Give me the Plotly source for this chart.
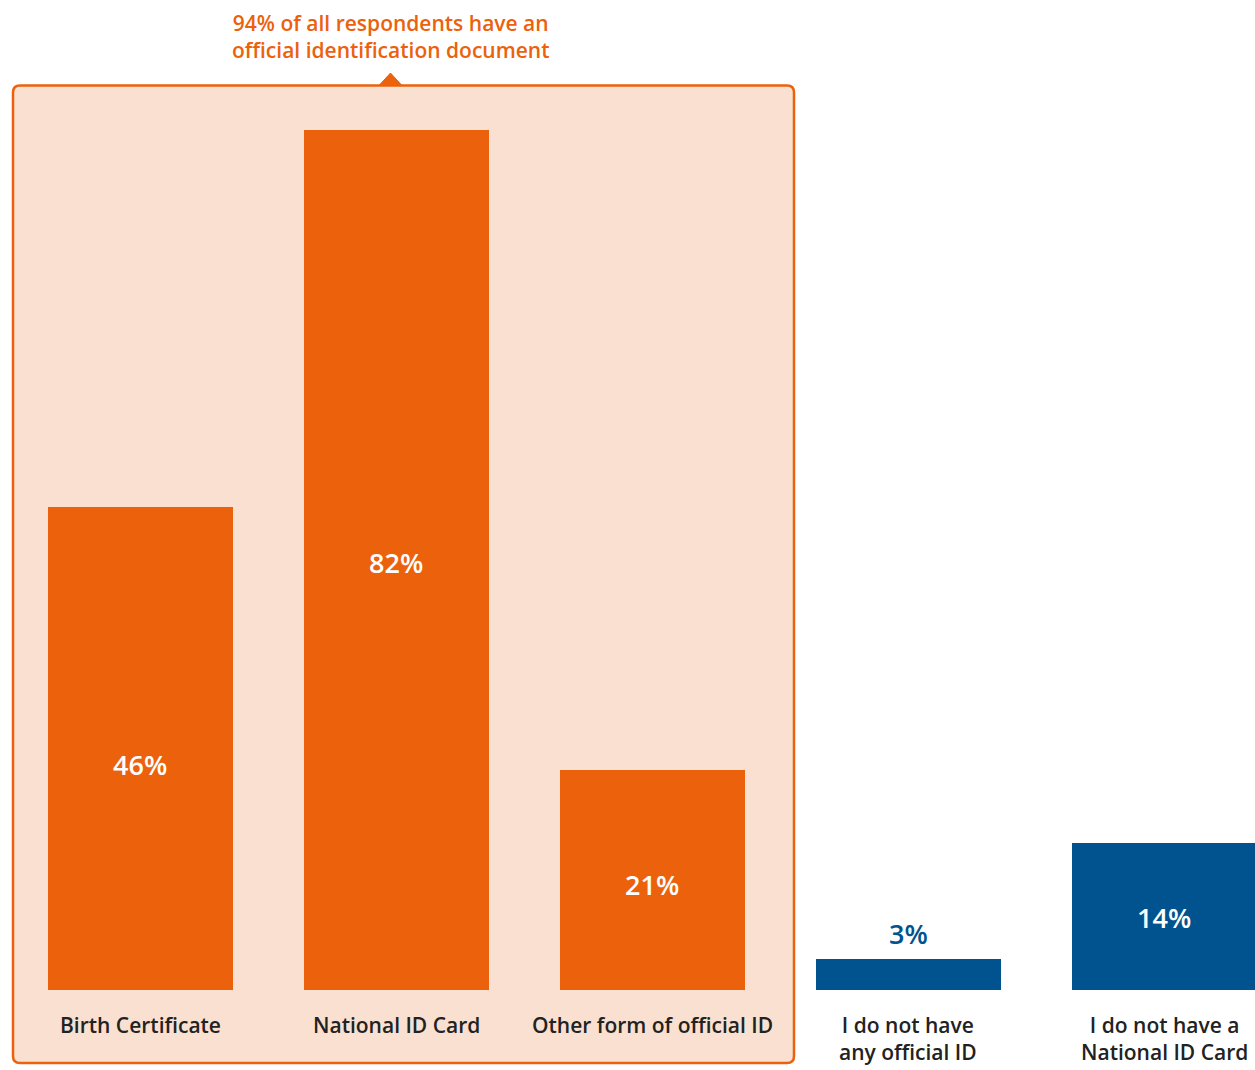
import plotly.graph_objects as go

categories = ["Birth Certificate", "National ID Card", "Other form of official ID",
              "I do not have<br>any official ID", "I do not have a<br>National ID Card"]
values = [46, 82, 21, 3, 14]
value_labels = ["46%", "82%", "21%", "3%", "14%"]
bar_colors = ["#EC610C", "#EC610C", "#EC610C", "#00538F", "#00538F"]
callout_text = "94% of all respondents have an<br>official identification document"

ORANGE = "#EC610C"
BLUE = "#00538F"
FILL = "#F9E0D0"
FONT = "Open Sans"

OFF = 0  # page body margin removed via post_script
W, H = 1255, 1070
# pixel geometry (screen coordinates)
x0_px, step_px = 140.0, 256.0
base_px, per_pct = 990.0, 10.49

def xd(px):
    return (px - x0_px) / step_px

def yd(py):
    return (base_px - py) / per_pct

xs = list(range(len(categories)))
label_shift = [-16, -3, -5, 6, -1]

fig = go.Figure()
fig.add_trace(go.Bar(
    x=xs, y=values, width=185 / step_px,
    marker=dict(color=bar_colors, line=dict(width=0)),
    hoverinfo="skip", showlegend=False,
))

# Callout box (rounded rectangle) in data coordinates
L, R, T, B = xd(13), xd(794), yd(85.5), yd(1063)
rx, ry = 7 / step_px, 7 / per_pct
path = (f"M {L+rx},{T} L {R-rx},{T} Q {R},{T} {R},{T-ry} L {R},{B+ry} Q {R},{B} {R-rx},{B} "
        f"L {L+rx},{B} Q {L},{B} {L},{B+ry} L {L},{T-ry} Q {L},{T} {L+rx},{T} Z")
fig.add_shape(type="path", path=path, xref="x", yref="y",
              fillcolor=FILL, line=dict(color=ORANGE, width=2.5), layer="below")
tri = f"M {xd(379)},{T} L {xd(390.5)},{yd(73)} L {xd(402)},{T} Z"
fig.add_shape(type="path", path=tri, xref="x", yref="y",
              fillcolor=ORANGE, line=dict(color=ORANGE, width=1), layer="below")

# Value labels
for i, (v, lab) in enumerate(zip(values, value_labels)):
    if v >= 10:
        fig.add_annotation(x=i, y=v / 2, yshift=label_shift[i], text=lab, showarrow=False,
                           font=dict(family=FONT, size=27, color="white", weight=600),
                           xref="x", yref="y")
    else:
        fig.add_annotation(x=i, y=v, text=lab, showarrow=False, yanchor="bottom", yshift=5,
                           font=dict(family=FONT, size=27, color=BLUE, weight=600),
                           xref="x", yref="y")

# Category labels
for i, c in enumerate(categories):
    fig.add_annotation(x=i, y=0, text=c, showarrow=False, yanchor="top", yshift=-19,
                       font=dict(family=FONT, size=21, color="#222222", weight=600),
                       xref="x", yref="y")

# Callout text
fig.add_annotation(x=xd(390), y=yd(36), text=callout_text, showarrow=False,
                   yanchor="middle", xref="x", yref="y",
                   font=dict(family=FONT, size=21, color=ORANGE, weight=600))

fig.update_layout(
    width=W, height=H, margin=dict(l=0, r=0, t=0, b=0),
    paper_bgcolor="white", plot_bgcolor="white",
    xaxis=dict(range=[xd(OFF), xd(W + OFF)], visible=False, fixedrange=True),
    yaxis=dict(range=[yd(H + OFF), yd(OFF)], visible=False, fixedrange=True),
    bargap=0,
)
fig.write_html("out.html", config={"displayModeBar": False},
               post_script="document.body.style.margin='0';document.body.style.overflow='hidden';")
